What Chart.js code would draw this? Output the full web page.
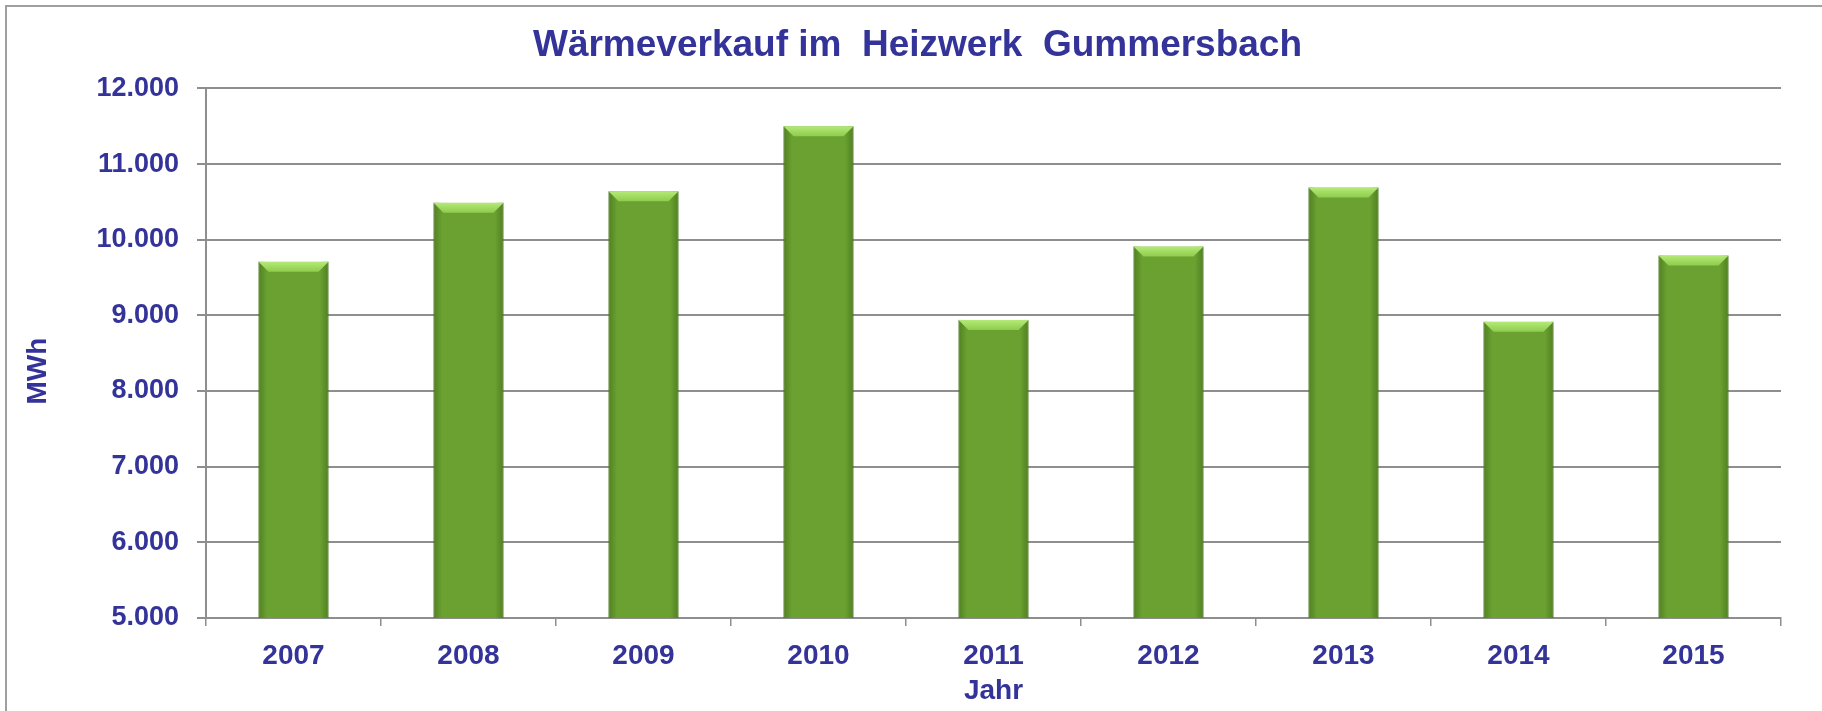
<!DOCTYPE html>
<html>
<head>
<meta charset="utf-8">
<script src="https://cdn.jsdelivr.net/npm/chart.js@4/dist/chart.umd.min.js"></script>
<style>
  html, body { margin: 0; padding: 0; background: #fff; overflow: hidden; }
  #frame { position: absolute; left: 5px; top: 5px; width: 1840px; height: 740px; border: 2px solid #a0a0a0; box-sizing: border-box; }
  #wrap { position: absolute; left: 0; top: 0; width: 1822px; height: 711px; }
</style>
</head>
<body>
<div id="frame"></div>
<div id="wrap"><canvas id="chart"></canvas></div>
<script>
var years = ["2007", "2008", "2009", "2010", "2011", "2012", "2013", "2014", "2015"];
var waermeverkauf = [9710, 10490, 10640, 11500, 8940, 9910, 10690, 8915, 9790];
var y_min = 5000;
var y_max = 12000;
var y_step = 1000;

var blue = "#333399";
var grid_grey = "#8e8e8e";
var font_family = "'Liberation Sans', Arial, sans-serif";

function dotted(v) {
  return String(v).replace(/\B(?=(\d{3})+(?!\d))/g, ".");
}

// draws the bevel look on each bar: darker sides and a light top edge
const bevel = {
  id: "bevel",
  afterDatasetsDraw(chart) {
    const c = chart.ctx;
    const bottom = chart.chartArea.bottom;
    chart.getDatasetMeta(0).data.forEach(function (bar) {
      const l = bar.x - bar.width / 2;
      const r = bar.x + bar.width / 2;
      const t = bar.y;
      const b = Math.min(bar.base, bottom);
      c.save();
      let side = c.createLinearGradient(l, 0, r, 0);
      side.addColorStop(0, "rgba(60,100,20,0.55)");
      side.addColorStop(0.12, "rgba(60,100,20,0)");
      side.addColorStop(0.88, "rgba(60,100,20,0)");
      side.addColorStop(1, "rgba(60,100,20,0.55)");
      c.fillStyle = side;
      c.fillRect(l, t, r - l, b - t);
      const d = 10;
      let top = c.createLinearGradient(0, t, 0, t + d);
      top.addColorStop(0, "#b4ea78");
      top.addColorStop(1, "#8fcc4c");
      c.beginPath();
      c.moveTo(l, t);
      c.lineTo(r, t);
      c.lineTo(r - d, t + d);
      c.lineTo(l + d, t + d);
      c.closePath();
      c.fillStyle = top;
      c.fill();
      c.restore();
    });
  }
};

const config = {
  type: "bar",
  data: {
    labels: years,
    datasets: [{
      label: "Wärmeverkauf",
      data: waermeverkauf,
      backgroundColor: "#6aa131",
      borderColor: "#5d8f2a",
      borderWidth: 1,
      categoryPercentage: 1.0,
      barPercentage: 0.4
    }]
  },
  options: {
    responsive: false,
    animation: false,
    layout: { padding: { left: 17, right: 41, top: 0, bottom: 3 } },
    plugins: {
      legend: { display: false },
      tooltip: { enabled: false },
      title: {
        display: true,
        // leading en spaces nudge the centred title a little to the right, as in the original
        text: "\u2002\u2002Wärmeverkauf im  Heizwerk  Gummersbach",
        color: blue,
        font: { family: font_family, size: 37, weight: "bold" },
        padding: { top: 24, bottom: 20 }
      }
    },
    scales: {
      x: {
        afterFit(scale) { scale.height = 90; },
        grid: { drawOnChartArea: false, drawTicks: true, tickLength: 8, color: grid_grey, lineWidth: 1.5 },
        border: { display: true, color: grid_grey, width: 2 },
        ticks: { color: blue, font: { family: font_family, size: 28, weight: "bold" }, padding: 13 },
        title: {
          display: true,
          text: "Jahr",
          color: blue,
          font: { family: font_family, size: 28, weight: "bold" },
          padding: { top: 0, bottom: 0 }
        }
      },
      y: {
        min: y_min,
        max: y_max,
        afterFit(scale) { scale.width = 189; },
        grid: { color: grid_grey, lineWidth: 2, drawTicks: true, tickLength: 9 },
        border: { display: true, color: grid_grey, width: 2 },
        ticks: {
          stepSize: y_step,
          color: blue,
          padding: 18,
          font: { family: font_family, size: 27, weight: "bold" },
          callback: (v) => dotted(v)
        },
        title: {
          display: true,
          // trailing spaces push the rotated label a bit lower, as in the original
          text: "MWh\u2002\u2002 ",
          color: blue,
          font: { family: font_family, size: 28, weight: "bold" },
          padding: { top: 4, bottom: 0 }
        }
      }
    }
  },
  plugins: [bevel]
};

const canvas = document.getElementById("chart");
canvas.width = 1822;
canvas.height = 711;
new Chart(canvas, config);
</script>
</body>
</html>
